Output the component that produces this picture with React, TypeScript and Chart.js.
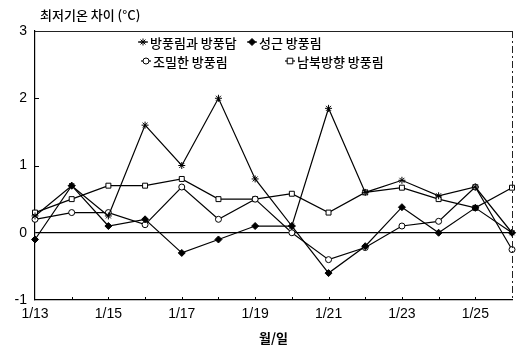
import React, { useEffect, useRef } from "react";
import { Chart, registerables } from "chart.js";

Chart.register(...registerables);

// Dates (month/day) along the x axis
const dates = [
  "1/13", "1/14", "1/15", "1/16", "1/17", "1/18", "1/19",
  "1/20", "1/21", "1/22", "1/23", "1/24", "1/25", "1/26",
];

// Difference in daily minimum temperature (°C) per windbreak type
const windbreakAndWall = [0.25, 0.7, 0.25, 1.6, 1.0, 2.0, 0.8, 0.1, 1.85, 0.6, 0.78, 0.55, 0.68, 0.0];
const sparseWindbreak = [-0.1, 0.7, 0.1, 0.2, -0.3, -0.1, 0.1, 0.1, -0.6, -0.2, 0.38, 0.0, 0.37, 0.0];
const denseWindbreak = [0.2, 0.3, 0.3, 0.12, 0.68, 0.2, 0.5, 0.0, -0.4, -0.22, 0.1, 0.17, 0.68, -0.25];
const northSouthWindbreak = [0.3, 0.5, 0.7, 0.7, 0.8, 0.5, 0.5, 0.58, 0.3, 0.6, 0.67, 0.5, 0.37, 0.67];

const seriesLabels = ["방풍림과 방풍담", "성근 방풍림", "조밀한 방풍림", "남북방향 방풍림"];

const yMin = -1;
const yMax = 3;

const chartTitle = "최저기온 차이 (°C)";
const xTitle = "월/일";

const numFont = "'Liberation Sans', Arial, sans-serif";
const krFont = "'Noto Sans CJK KR', 'Noto Sans', sans-serif";

// Legend slots: [x offset from plot left, row]
const legendSlots: [number, number][] = [
  [108, 0],
  [217, 0],
  [111, 1],
  [255, 1],
];

function drawMarker(ctx: CanvasRenderingContext2D, style: string, x: number, y: number, r: number) {
  ctx.beginPath();
  if (style === "rectRot") {
    ctx.moveTo(x, y - r);
    ctx.lineTo(x + r, y);
    ctx.lineTo(x, y + r);
    ctx.lineTo(x - r, y);
    ctx.closePath();
    ctx.fill();
    ctx.stroke();
  } else if (style === "rect") {
    ctx.rect(x - r * 0.8, y - r * 0.8, r * 1.6, r * 1.6);
    ctx.fill();
    ctx.stroke();
  } else if (style === "circle") {
    ctx.arc(x, y, r, 0, Math.PI * 2);
    ctx.fill();
    ctx.stroke();
  } else {
    ctx.moveTo(x - r, y);
    ctx.lineTo(x + r, y);
    ctx.moveTo(x, y - r);
    ctx.lineTo(x, y + r);
    ctx.moveTo(x - r * 0.7, y - r * 0.7);
    ctx.lineTo(x + r * 0.7, y + r * 0.7);
    ctx.moveTo(x + r * 0.7, y - r * 0.7);
    ctx.lineTo(x - r * 0.7, y + r * 0.7);
    ctx.stroke();
  }
}

// Frame, inward ticks, chart title and the two-row legend
const decorPlugin = {
  id: "decor",
  afterDraw(chart: any) {
    const { ctx, chartArea } = chart;
    const { left, right, top, bottom } = chartArea;
    const xs = chart.scales.x;
    const ys = chart.scales.y;
    ctx.save();

    // top and right frame lines
    ctx.strokeStyle = "#222";
    ctx.lineWidth = 1;
    ctx.beginPath();
    ctx.moveTo(left, top + 0.5);
    ctx.lineTo(right, top + 0.5);
    ctx.stroke();
    ctx.setLineDash([7, 3, 2, 3]);
    ctx.beginPath();
    ctx.moveTo(right + 0.5, top);
    ctx.lineTo(right + 0.5, bottom);
    ctx.stroke();
    ctx.setLineDash([]);

    // short inward tick marks
    ctx.strokeStyle = "#000";
    ctx.lineWidth = 1;
    for (let v = yMin + 1; v < yMax; v++) {
      if (v === 0) continue;
      const y = Math.round(ys.getPixelForValue(v)) + 0.5;
      ctx.beginPath();
      ctx.moveTo(left, y);
      ctx.lineTo(left + 4, y);
      ctx.stroke();
    }
    for (let i = 1; i < dates.length - 1; i++) {
      const x = Math.round(xs.getPixelForValue(i)) + 0.5;
      ctx.beginPath();
      ctx.moveTo(x, bottom);
      ctx.lineTo(x, bottom - 3);
      ctx.stroke();
    }

    // chart title
    ctx.fillStyle = "#000";
    ctx.font = `500 13px ${krFont}`;
    ctx.textAlign = "left";
    ctx.textBaseline = "middle";
    ctx.fillText(chartTitle, 40, 15);

    // legend
    chart.data.datasets.forEach((ds: any, i: number) => {
      const [dx, row] = legendSlots[i];
      const x = left + dx;
      const y = top + 11 + row * 19;
      ctx.strokeStyle = "#000";
      ctx.lineWidth = 1.2;
      ctx.beginPath();
      ctx.moveTo(x - 5, y);
      ctx.lineTo(x + 5, y);
      ctx.stroke();
      ctx.save();
      ctx.lineWidth = 1;
      ctx.strokeStyle = "#000";
      ctx.fillStyle = ds.pointBackgroundColor;
      drawMarker(ctx, ds.pointStyle, x, y, ds.pointRadius);
      ctx.restore();
      ctx.fillStyle = "#000";
      ctx.font = `500 13px ${krFont}`;
      ctx.textAlign = "left";
      ctx.textBaseline = "middle";
      ctx.fillText(ds.label, x + 7, y + 1);
    });

    ctx.restore();
  },
};

export default function App() {
  const canvasRef = useRef<HTMLCanvasElement | null>(null);

  useEffect(() => {
    document.body.style.margin = "0";
    const canvas = canvasRef.current;
    if (!canvas) return;

    const lineBase = {
      borderColor: "#000",
      borderWidth: 1.2,
      pointBorderColor: "#000",
      pointBorderWidth: 1,
      tension: 0,
      fill: false,
    };

    const chart = new Chart(canvas, {
      type: "line",
      data: {
        labels: dates,
        datasets: [
          {
            ...lineBase,
            label: seriesLabels[0],
            data: windbreakAndWall,
            pointStyle: "star",
            pointRadius: 3.5,
            pointBackgroundColor: "#000",
          },
          {
            ...lineBase,
            label: seriesLabels[1],
            data: sparseWindbreak,
            pointStyle: "rectRot",
            pointRadius: 3.5,
            pointBackgroundColor: "#000",
          },
          {
            ...lineBase,
            label: seriesLabels[2],
            data: denseWindbreak,
            pointStyle: "circle",
            pointRadius: 3,
            pointBackgroundColor: "#fff",
          },
          {
            ...lineBase,
            label: seriesLabels[3],
            data: northSouthWindbreak,
            pointStyle: "rect",
            pointRadius: 3.5,
            pointBackgroundColor: "#fff",
          },
        ] as any,
      },
      options: {
        animation: false,
        responsive: false,
        maintainAspectRatio: false,
        layout: { padding: { top: 31, right: 9, left: 0, bottom: 0 } },
        plugins: {
          legend: { display: false },
          tooltip: { enabled: false },
          title: { display: false },
        },
        scales: {
          x: {
            type: "category",
            offset: false,
            grid: { display: false, drawTicks: false },
            border: { display: true, color: "#000", width: 1.2 },
            ticks: {
              autoSkip: false,
              maxRotation: 0,
              padding: 6,
              color: "#000",
              font: { family: numFont, size: 14 },
              callback: (_v: any, i: number) => (i % 2 === 0 ? dates[i] : ""),
            },
            title: {
              display: true,
              text: xTitle,
              color: "#000",
              font: { family: krFont, size: 13, weight: "bold" },
              padding: { top: 0, bottom: 3 },
            },
            afterFit: (s: any) => {
              s.height = 49;
            },
          },
          y: {
            min: yMin,
            max: yMax,
            grid: {
              drawTicks: false,
              color: (c: any) => (c.tick && c.tick.value === 0 ? "#000" : "rgba(0,0,0,0)"),
              lineWidth: 1.2,
            },
            border: { display: true, color: "#000", width: 1.2 },
            ticks: {
              stepSize: 1,
              padding: 8,
              color: "#000",
              font: { family: numFont, size: 14 },
            },
            afterFit: (s: any) => {
              s.width = 35;
            },
          },
        },
      } as any,
      plugins: [decorPlugin],
    });

    return () => chart.destroy();
  }, []);

  return (
    <div style={{ position: "absolute", left: 0, top: 0, width: 521, height: 349 }}>
      <canvas ref={canvasRef} width={521} height={349} style={{ display: "block", width: 521, height: 349 }} />
    </div>
  );
}
